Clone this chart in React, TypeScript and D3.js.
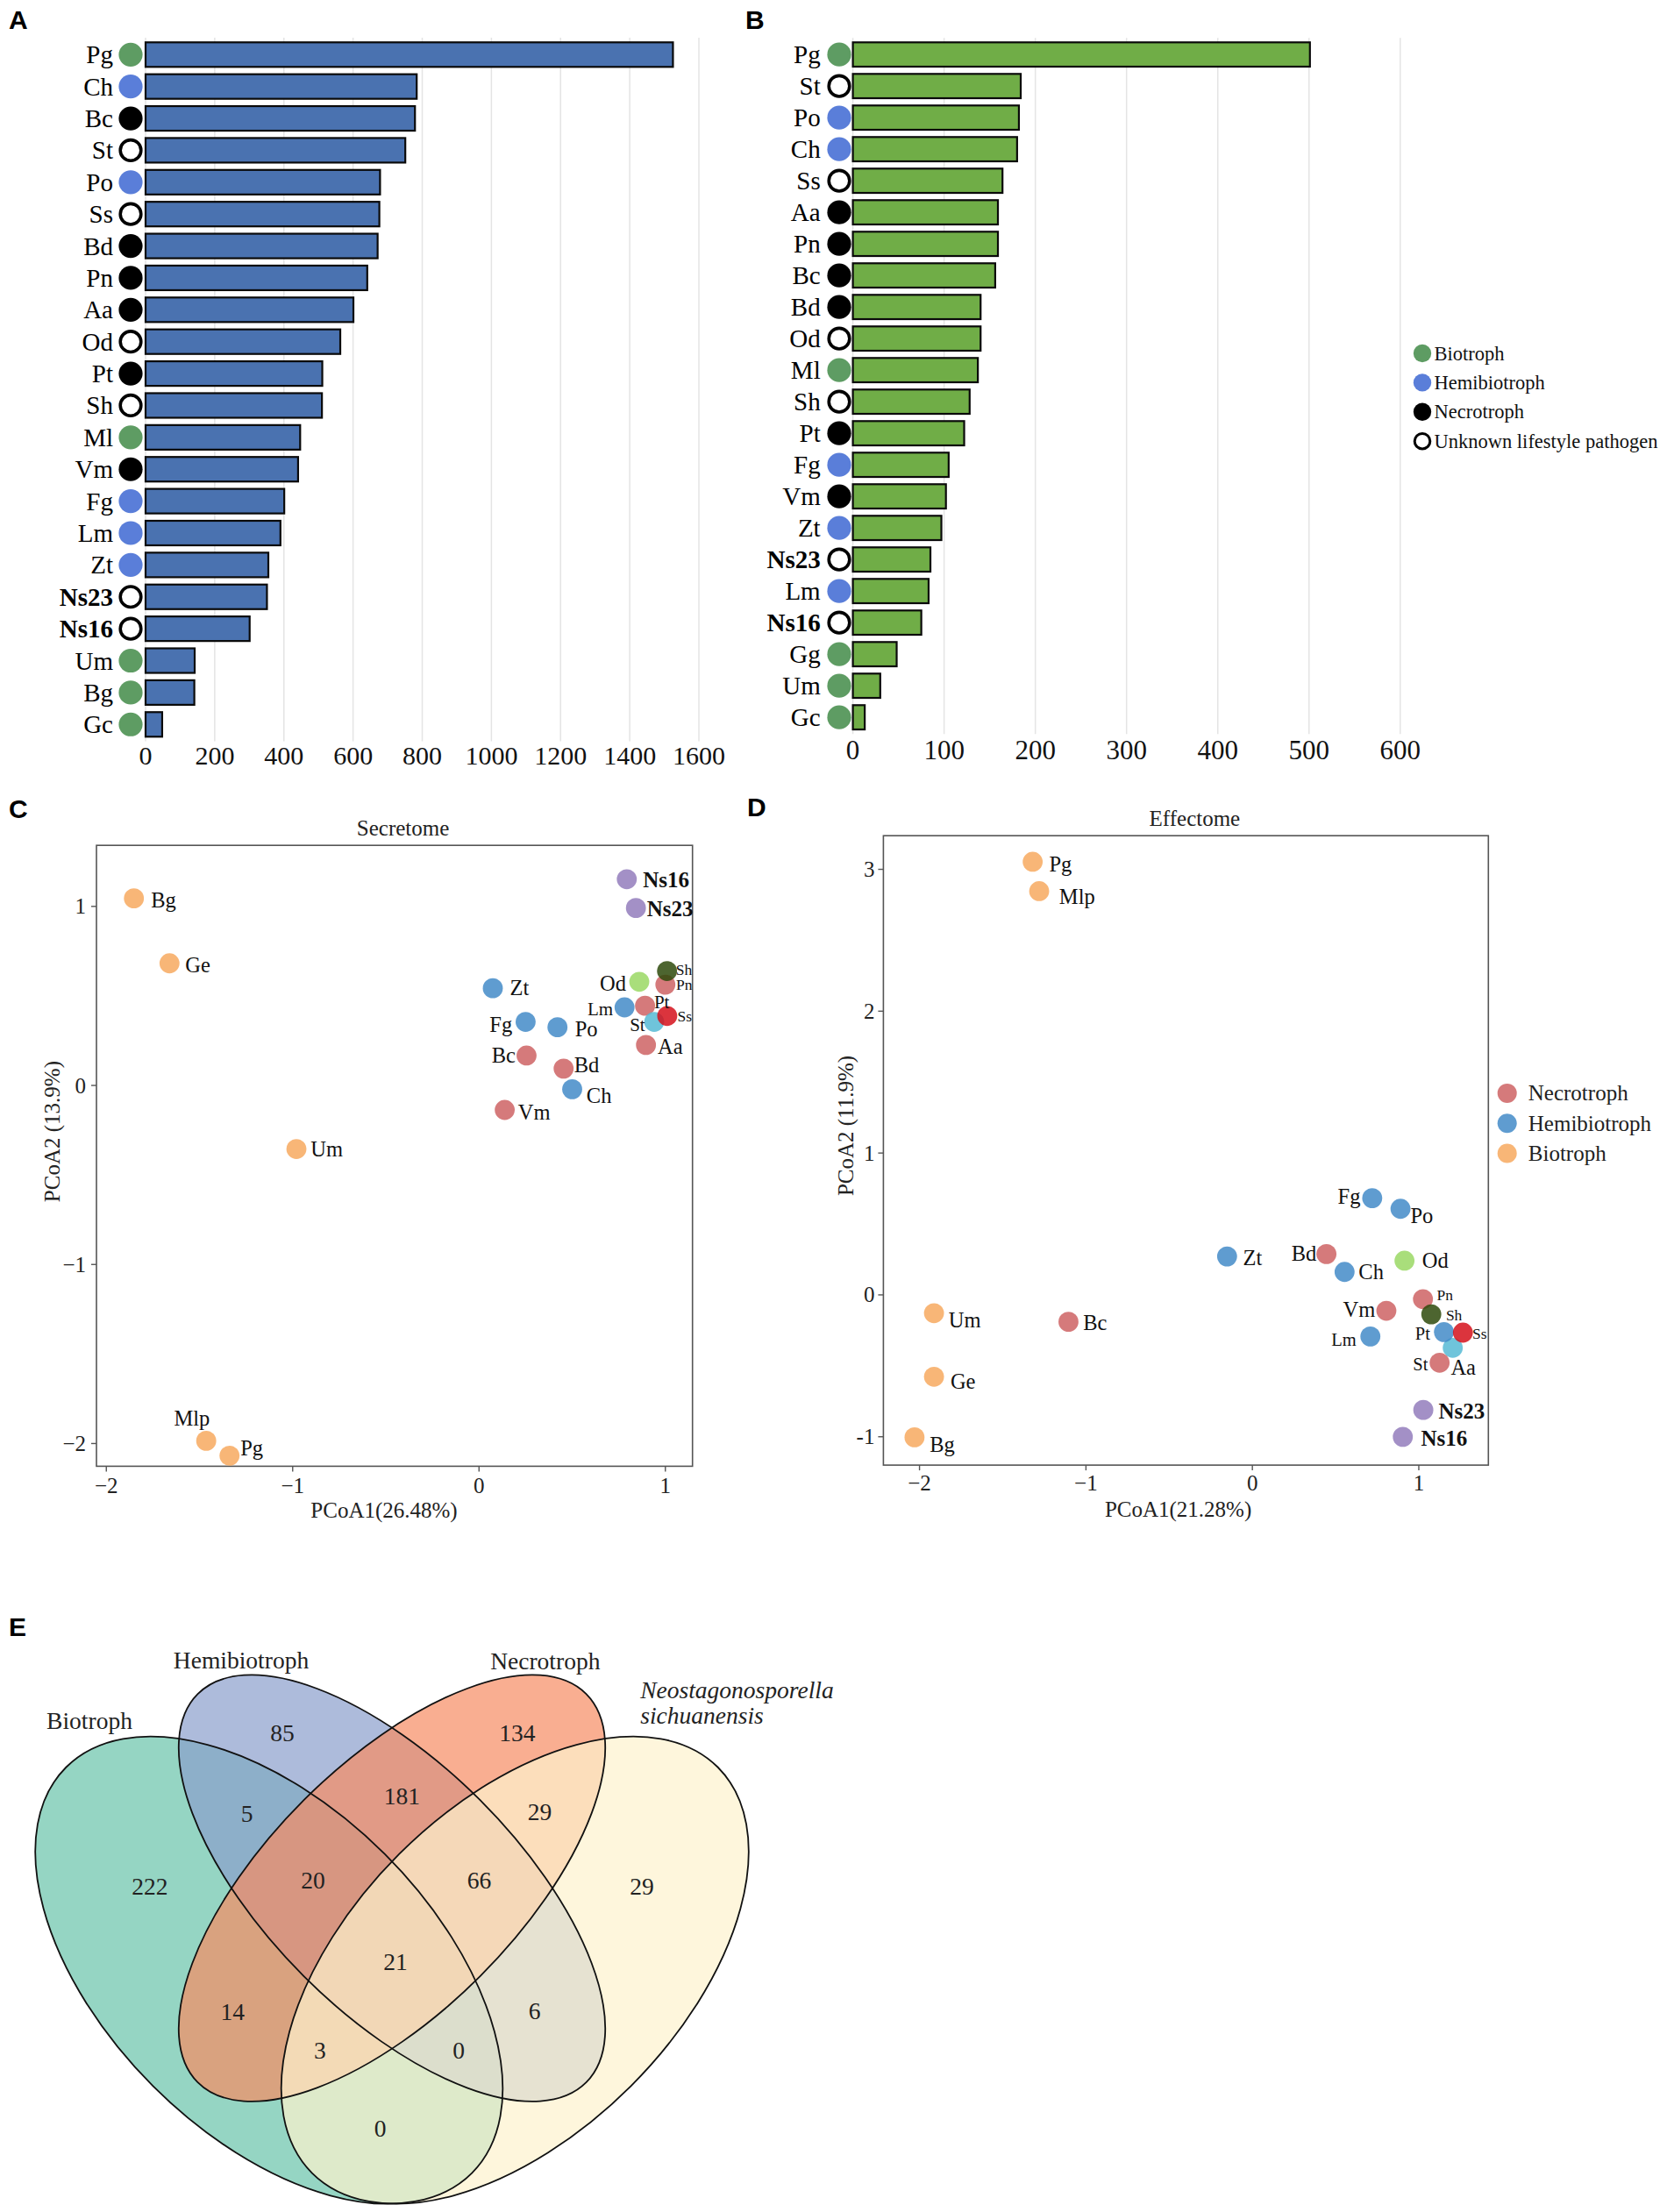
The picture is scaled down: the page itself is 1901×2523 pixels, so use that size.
import React from "react";
import * as d3 from "d3";

const SERIF = "'Liberation Serif', 'Times New Roman', Times, serif";
const SANS = "'Liberation Sans', Arial, Helvetica, sans-serif";

// ---------- Panel A: secretome sizes ----------
const secretomeSpecies = ["Pg", "Ch", "Bc", "St", "Po", "Ss", "Bd", "Pn", "Aa", "Od", "Pt", "Sh", "Ml", "Vm", "Fg", "Lm", "Zt", "Ns23", "Ns16", "Um", "Bg", "Gc"];
const secretomeCounts = [1525, 784, 779, 751, 678, 676, 671, 641, 601, 563, 511, 510, 447, 441, 401, 390, 355, 351, 301, 142, 141, 48];
const secretomeLifestyles = ["B", "H", "N", "U", "H", "U", "N", "N", "N", "U", "N", "U", "B", "N", "H", "H", "H", "U", "U", "B", "B", "B"];
const secretomeTicks = [0, 200, 400, 600, 800, 1000, 1200, 1400, 1600];

// ---------- Panel B: effectome sizes ----------
const effectomeSpecies = ["Pg", "St", "Po", "Ch", "Ss", "Aa", "Pn", "Bc", "Bd", "Od", "Ml", "Sh", "Pt", "Fg", "Vm", "Zt", "Ns23", "Lm", "Ns16", "Gg", "Um", "Gc"];
const effectomeCounts = [501, 184, 182, 180, 164, 159, 159, 156, 140, 140, 137, 128, 122, 105, 102, 97, 85, 83, 75, 48, 30, 13];
const effectomeLifestyles = ["B", "U", "H", "H", "U", "N", "N", "N", "N", "U", "B", "U", "N", "H", "N", "H", "U", "H", "U", "B", "B", "B"];
const effectomeTicks = [0, 100, 200, 300, 400, 500, 600];

const lifestyleKeys = ["B", "H", "N", "U"];
const lifestyleNames = ["Biotroph", "Hemibiotroph", "Necrotroph", "Unknown lifestyle pathogen"];

// ---------- Panel C: secretome PCoA ----------
const secNames = ["Bg", "Ge", "Um", "Mlp", "Pg", "Zt", "Fg", "Po", "Bc", "Bd", "Ch", "Vm", "Od", "Lm", "Pt", "Aa", "St", "Ss", "Pn", "Sh", "Ns16", "Ns23"];
const secX = [-1.852, -1.661, -0.98, -1.464, -1.339, 0.074, 0.25, 0.421, 0.255, 0.454, 0.5, 0.138, 0.86, 0.781, 0.891, 0.896, 0.94, 1.01, 1.0, 1.009, 0.793, 0.842];
const secY = [1.045, 0.682, -0.355, -1.985, -2.068, 0.543, 0.355, 0.325, 0.167, 0.094, -0.021, -0.137, 0.579, 0.436, 0.445, 0.226, 0.355, 0.388, 0.563, 0.639, 1.152, 0.991];
const secGroups = ["bio", "bio", "bio", "bio", "bio", "hemi", "hemi", "hemi", "necro", "necro", "hemi", "necro", "od", "hemi", "necro", "necro", "st", "ss", "necro", "sh", "ns", "ns"];
const secXTicks = [-2, -1, 0, 1];
const secYTicks = [-2, -1, 0, 1];

// ---------- Panel D: effectome PCoA ----------
const effNames = ["Pg", "Mlp", "Um", "Ge", "Bg", "Bc", "Zt", "Bd", "Ch", "Fg", "Po", "Od", "Vm", "Lm", "Pn", "Sh", "St", "Pt", "Ss", "Aa", "Ns23", "Ns16"];
const effX = [-1.32, -1.281, -1.913, -1.913, -2.03, -1.105, -0.152, 0.445, 0.554, 0.72, 0.89, 0.914, 0.805, 0.709, 1.025, 1.075, 1.204, 1.151, 1.265, 1.125, 1.027, 0.904];
const effY = [3.053, 2.846, -0.129, -0.577, -1.004, -0.19, 0.271, 0.288, 0.162, 0.682, 0.607, 0.241, -0.112, -0.293, -0.03, -0.137, -0.373, -0.262, -0.266, -0.478, -0.811, -1.001];
const effGroups = ["bio", "bio", "bio", "bio", "bio", "necro", "hemi", "necro", "hemi", "hemi", "hemi", "od", "necro", "hemi", "necro", "sh", "st", "hemi", "ss", "necro", "ns", "ns"];
const effXTicks = [-2, -1, 0, 1];
const effYTicks = [-1, 0, 1, 2, 3];

const pcoaLegendKeys = ["necro", "hemi", "bio"];
const pcoaLegendNames = ["Necrotroph", "Hemibiotroph", "Biotroph"];

// ---------- Panel E: Venn ----------
const vennSetNames = ["Biotroph", "Hemibiotroph", "Necrotroph"];
const vennSpeciesName = ["Neostagonosporella", "sichuanensis"];
const vennRegions = ["B", "H", "N", "S", "BH", "HN", "NS", "BHN", "HNS", "BHNS", "BN", "BNS", "HS", "BHS", "BS"];
const vennCounts = [222, 85, 134, 29, 5, 181, 29, 20, 66, 21, 14, 3, 6, 0, 0];

// ---------- styles / layout (not data) ----------
const markerFill: Record<string, string> = { B: "#5E9C63", H: "#5A7ED9", N: "#000000", U: "#ffffff" };
const pointFill: Record<string, string> = {
  bio: "#F7A95F",
  hemi: "#438BC8",
  necro: "#CE6364",
  ns: "#937DBC",
  od: "#9AD864",
  sh: "#2E4A0C",
  st: "#56BAD5",
  ss: "#D5101B",
};

type Lab = [number, number, "start" | "end" | "middle", number, boolean?];
const secLabelLayout: Record<string, Lab> = {
  Bg: [19.5, 2.2, "start", 24.5], Ge: [17.9, 1.6, "start", 24.5], Um: [16.3, 0, "start", 24.5],
  Mlp: [-16.3, -25.8, "middle", 24.5], Pg: [12.5, -8.8, "start", 24.5],
  Ns16: [18.4, 1.1, "start", 25, true], Ns23: [12.5, 0.5, "start", 25, true],
  Zt: [19.5, -0.5, "start", 24.5], Fg: [-15.2, 3.3, "end", 24.5], Po: [20, 2.2, "start", 24.5],
  Bc: [-12.5, 0, "end", 24.5], Bd: [11.9, -3.8, "start", 24.5], Ch: [16.3, 7.1, "start", 24.5],
  Vm: [15.2, 2.7, "start", 24.5], Od: [-15, 1.7, "end", 24.5], Sh: [10, -1.7, "start", 17.5],
  Pn: [12.3, 0.3, "start", 17.5], Pt: [10.3, -4, "start", 21], Lm: [-13, 1.7, "end", 21],
  St: [-10.3, 3.3, "end", 21], Ss: [11.7, 0, "start", 17.5], Aa: [13.3, 2, "start", 24.5],
};
const effLabelLayout: Record<string, Lab> = {
  Pg: [18.8, 2.7, "start", 24.5], Mlp: [22.8, 6.6, "start", 24.5], Um: [16.7, 8.2, "start", 24.5],
  Ge: [18.8, 5.5, "start", 24.5], Bg: [17.4, 8.2, "start", 24.5], Bc: [16.7, 1.1, "start", 24.5],
  Zt: [18.1, 1.6, "start", 24.5], Bd: [-11.4, -0.5, "end", 24.5], Ch: [16, 0, "start", 24.5],
  Fg: [-13.4, -2.2, "end", 24.5], Po: [11.4, 7.7, "start", 24.5], Od: [20.1, -0.5, "start", 24.5],
  Pn: [15.7, -5, "start", 17.5], Vm: [-12.7, -1.7, "end", 24.5], Sh: [16.7, 1, "start", 17.5],
  Lm: [-16, 4, "end", 20.5], St: [-28.3, 18.3, "end", 20.5], Pt: [-15.7, 1.7, "end", 20.5],
  Ss: [10.7, 1, "start", 17.5], Aa: [12.7, 5.7, "start", 24.5],
  Ns23: [17.4, 1.6, "start", 25, true], Ns16: [20.8, 1.6, "start", 25, true],
};
const vennLabelPos: Record<string, [number, number]> = {
  B: [170.9, 2152.1], H: [322, 1976.7], N: [589.9, 1976.8], S: [732.1, 2152.1],
  BH: [281.7, 2068.3], HN: [458.3, 2048.3], NS: [615.4, 2066.9], BHN: [357.1, 2144.8],
  HNS: [546.6, 2144.8], BHNS: [450.9, 2237.4], BN: [265.3, 2294.8], BNS: [364.8, 2338.2],
  HS: [609.7, 2293.4], BHS: [523, 2338.2], BS: [433.7, 2427.3],
};

function fmtMinus(t: number, hyphen = false) {
  if (t < 0) return (hyphen ? "-" : "\u2212") + Math.abs(t);
  return String(t);
}

function BarPanel(props: {
  species: string[]; counts: number[]; lifestyles: string[]; ticks: number[];
  xRange: [number, number]; yStart: number; step: number; fill: string;
  labelRight: number; markerX: number; tickBaseline: number; tickSize: number;
}) {
  const { species, counts, lifestyles, ticks, xRange, yStart, step, fill, labelRight, markerX, tickBaseline, tickSize } = props;
  const x = d3.scaleLinear().domain([ticks[0], ticks[ticks.length - 1]]).range(xRange);
  const y = d3.scaleBand<string>().domain(species).range([yStart, yStart + step * species.length]).paddingInner(0.23).paddingOuter(0.115);
  const gridTop = yStart - 1;
  const gridBottom = yStart + step * species.length + 1;
  return (
    <g>
      {ticks.map((t) => (
        <line key={"g" + t} x1={x(t)} x2={x(t)} y1={gridTop} y2={gridBottom} stroke="#e4e4e4" strokeWidth={1.5} />
      ))}
      {species.map((s, i) => {
        const yy = y(s)!;
        const bw = y.bandwidth();
        const cy = yy + bw / 2;
        const life = lifestyles[i];
        return (
          <g key={s}>
            <rect x={x(0)} y={yy} width={x(counts[i]) - x(0)} height={bw} fill={fill} stroke="#0a0a0a" strokeWidth={2.2} />
            {life === "U" ? (
              <circle cx={markerX} cy={cy} r={11.8} fill="#fff" stroke="#000" strokeWidth={3.6} />
            ) : (
              <circle cx={markerX} cy={cy} r={13.6} fill={markerFill[life]} />
            )}
            <text x={labelRight} y={cy + 10} textAnchor="end" fontFamily={SERIF} fontSize={29} fontWeight={s.startsWith("Ns") ? "bold" : "normal"} fill="#000">
              {s}
            </text>
          </g>
        );
      })}
      {ticks.map((t) => (
        <text key={"t" + t} x={x(t)} y={tickBaseline} textAnchor="middle" fontFamily={SERIF} fontSize={tickSize} fill="#111">
          {t}
        </text>
      ))}
    </g>
  );
}

function PcoaPanel(props: {
  names: string[]; xs: number[]; ys: number[]; groups: string[]; layout: Record<string, Lab>;
  xDomain: [number, number]; yDomain: [number, number]; box: [number, number, number, number];
  xTicks: number[]; yTicks: number[]; hyphenY: boolean;
  title: string; titlePos: [number, number]; xLabel: string; xLabelPos: [number, number];
  yLabel: string; yLabelPos: [number, number]; xTickBaseline: number; yTickRight: number;
}) {
  const p = props;
  const [left, top, right, bottom] = p.box;
  const x = d3.scaleLinear().domain(p.xDomain).range([left, right]);
  const y = d3.scaleLinear().domain(p.yDomain).range([bottom, top]);
  return (
    <g>
      <rect x={left} y={top} width={right - left} height={bottom - top} fill="none" stroke="#555" strokeWidth={1.6} />
      {p.xTicks.map((t) => (
        <g key={"x" + t}>
          <line x1={x(t)} x2={x(t)} y1={bottom} y2={bottom + 6} stroke="#555" strokeWidth={1.4} />
          <text x={x(t)} y={p.xTickBaseline} textAnchor="middle" fontFamily={SERIF} fontSize={25} fill="#222">
            {fmtMinus(t)}
          </text>
        </g>
      ))}
      {p.yTicks.map((t) => (
        <g key={"y" + t}>
          <line x1={left - 6} x2={left} y1={y(t)} y2={y(t)} stroke="#555" strokeWidth={1.4} />
          <text x={p.yTickRight} y={y(t) + 8.5} textAnchor="end" fontFamily={SERIF} fontSize={25} fill="#222">
            {fmtMinus(t, p.hyphenY)}
          </text>
        </g>
      ))}
      <text x={p.titlePos[0]} y={p.titlePos[1]} textAnchor="middle" fontFamily={SERIF} fontSize={25} fill="#222">{p.title}</text>
      <text x={p.xLabelPos[0]} y={p.xLabelPos[1]} textAnchor="middle" fontFamily={SERIF} fontSize={25} fill="#222">{p.xLabel}</text>
      <text transform={`translate(${p.yLabelPos[0]},${p.yLabelPos[1]}) rotate(-90)`} textAnchor="middle" fontFamily={SERIF} fontSize={25} fill="#222" dy={8.5}>
        {p.yLabel}
      </text>
      {p.names.map((n, i) => (
        <circle key={"p" + n} cx={x(p.xs[i])} cy={y(p.ys[i])} r={11.4} fill={pointFill[p.groups[i]]} fillOpacity={0.85} />
      ))}
      {p.names.map((n, i) => {
        const l = p.layout[n];
        return (
          <text key={"l" + n} x={x(p.xs[i]) + l[0]} y={y(p.ys[i]) + l[1] + l[3] * 0.34} textAnchor={l[2]} fontFamily={SERIF} fontSize={l[3]} fontWeight={l[4] ? "bold" : "normal"} fill="#111">
            {n}
          </text>
        );
      })}
    </g>
  );
}

function Venn() {
  // unit-square geometry of the classic four-ellipse Venn, mapped to pixels
  const sx = d3.scaleLinear().domain([0, 1]).range([447 - 467.5, 447 + 467.5]);
  const sy = d3.scaleLinear().domain([0, 1]).range([2686.6, 2686.6 - 935]);
  const k = 935;
  const ellipses = [
    { cx: 0.35, cy: 0.47, a: 0.35, b: 0.2, rot: 45, fill: "#68C3A9" },
    { cx: 0.5, cy: 0.57, a: 0.335, b: 0.152, rot: 45, fill: "#8A9ECC" },
    { cx: 0.5, cy: 0.57, a: 0.335, b: 0.152, rot: -45, fill: "#F68B62" },
    { cx: 0.65, cy: 0.47, a: 0.35, b: 0.2, rot: -45, fill: "#FEF2CD" },
  ];
  return (
    <g>
      {ellipses.map((e, i) => (
        <ellipse key={"f" + i} cx={sx(e.cx)} cy={sy(e.cy)} rx={e.a * k} ry={e.b * k} transform={`rotate(${e.rot} ${sx(e.cx)} ${sy(e.cy)})`} fill={e.fill} fillOpacity={0.7} />
      ))}
      {ellipses.map((e, i) => (
        <ellipse key={"s" + i} cx={sx(e.cx)} cy={sy(e.cy)} rx={e.a * k} ry={e.b * k} transform={`rotate(${e.rot} ${sx(e.cx)} ${sy(e.cy)})`} fill="none" stroke="#111" strokeWidth={1.8} />
      ))}
      {vennRegions.map((r, i) => (
        <text key={r} x={vennLabelPos[r][0]} y={vennLabelPos[r][1] + 9.3} textAnchor="middle" fontFamily={SERIF} fontSize={27.5} fill="#222">
          {vennCounts[i]}
        </text>
      ))}
      <text x={102} y={1971.7} textAnchor="middle" fontFamily={SERIF} fontSize={27.5} fill="#222">{vennSetNames[0]}</text>
      <text x={275} y={1903.3} textAnchor="middle" fontFamily={SERIF} fontSize={27.5} fill="#222">{vennSetNames[1]}</text>
      <text x={621.8} y={1904} textAnchor="middle" fontFamily={SERIF} fontSize={27.5} fill="#222">{vennSetNames[2]}</text>
      <text x={730.2} y={1937} textAnchor="start" fontFamily={SERIF} fontStyle="italic" fontSize={27.5} fill="#222">{vennSpeciesName[0]}</text>
      <text x={730.2} y={1966} textAnchor="start" fontFamily={SERIF} fontStyle="italic" fontSize={27.5} fill="#222">{vennSpeciesName[1]}</text>
    </g>
  );
}

export default function App() {
  return (
    <svg width={1901} height={2523} viewBox="0 0 1901 2523" style={{ position: "absolute", left: 0, top: 0, display: "block", background: "#fff" }}>
      <rect x={0} y={0} width={1901} height={2523} fill="#fff" />
      {/* panel letters */}
      {[["A", 10, 33], ["B", 850, 33], ["C", 10, 933], ["D", 852, 931], ["E", 10, 1866]].map(([t, px, py]) => (
        <text key={t as string} x={px as number} y={py as number} fontFamily={SANS} fontWeight="bold" fontSize={30} fill="#000">{t}</text>
      ))}

      <BarPanel species={secretomeSpecies} counts={secretomeCounts} lifestyles={secretomeLifestyles} ticks={secretomeTicks}
        xRange={[166, 797]} yStart={44.1} step={36.38} fill="#4A72B0" labelRight={129} markerX={149} tickBaseline={872} tickSize={30} />
      <BarPanel species={effectomeSpecies} counts={effectomeCounts} lifestyles={effectomeLifestyles} ticks={effectomeTicks}
        xRange={[972.6, 1596.8]} yStart={44.16} step={36.0} fill="#70AD47" labelRight={935.7} markerX={957} tickBaseline={866} tickSize={31} />

      {/* lifestyle legend */}
      {lifestyleKeys.map((k, i) => {
        const cy = 403 + i * 33.4;
        return (
          <g key={k}>
            {k === "U" ? (
              <circle cx={1622} cy={cy} r={8.8} fill="#fff" stroke="#000" strokeWidth={3} />
            ) : (
              <circle cx={1622} cy={cy} r={10.2} fill={markerFill[k]} />
            )}
            <text x={1635.5} y={cy + 7.5} fontFamily={SERIF} fontSize={22.5} fill="#111">{lifestyleNames[i]}</text>
          </g>
        );
      })}

      <PcoaPanel names={secNames} xs={secX} ys={secY} groups={secGroups} layout={secLabelLayout}
        xDomain={[-2.053, 1.1456]} yDomain={[-2.127, 1.341]} box={[110, 964.2, 789.7, 1672.4]}
        xTicks={secXTicks} yTicks={secYTicks} hyphenY={false}
        title="Secretome" titlePos={[459.6, 953]} xLabel="PCoA1(26.48%)" xLabelPos={[438, 1731]}
        yLabel="PCoA2 (13.9%)" yLabelPos={[59.6, 1290.6]} xTickBaseline={1703} yTickRight={98} />

      <PcoaPanel names={effNames} xs={effX} ys={effY} groups={effGroups} layout={effLabelLayout}
        xDomain={[-2.217, 1.418]} yDomain={[-1.2, 3.237]} box={[1007.4, 953.2, 1697.3, 1671.1]}
        xTicks={effXTicks} yTicks={effYTicks} hyphenY={true}
        title="Effectome" titlePos={[1362.4, 942]} xLabel="PCoA1(21.28%)" xLabelPos={[1343.6, 1730]}
        yLabel="PCoA2 (11.9%)" yLabelPos={[964, 1284]} xTickBaseline={1700} yTickRight={997.4} />

      {/* PCoA legend */}
      {pcoaLegendKeys.map((k, i) => {
        const cy = 1246.9 + i * 34.3;
        return (
          <g key={k}>
            <circle cx={1718.7} cy={cy} r={11} fill={pointFill[k]} fillOpacity={0.85} />
            <text x={1742.8} y={cy + 8.5} fontFamily={SERIF} fontSize={25} fill="#222">{pcoaLegendNames[i]}</text>
          </g>
        );
      })}

      <Venn />
    </svg>
  );
}
